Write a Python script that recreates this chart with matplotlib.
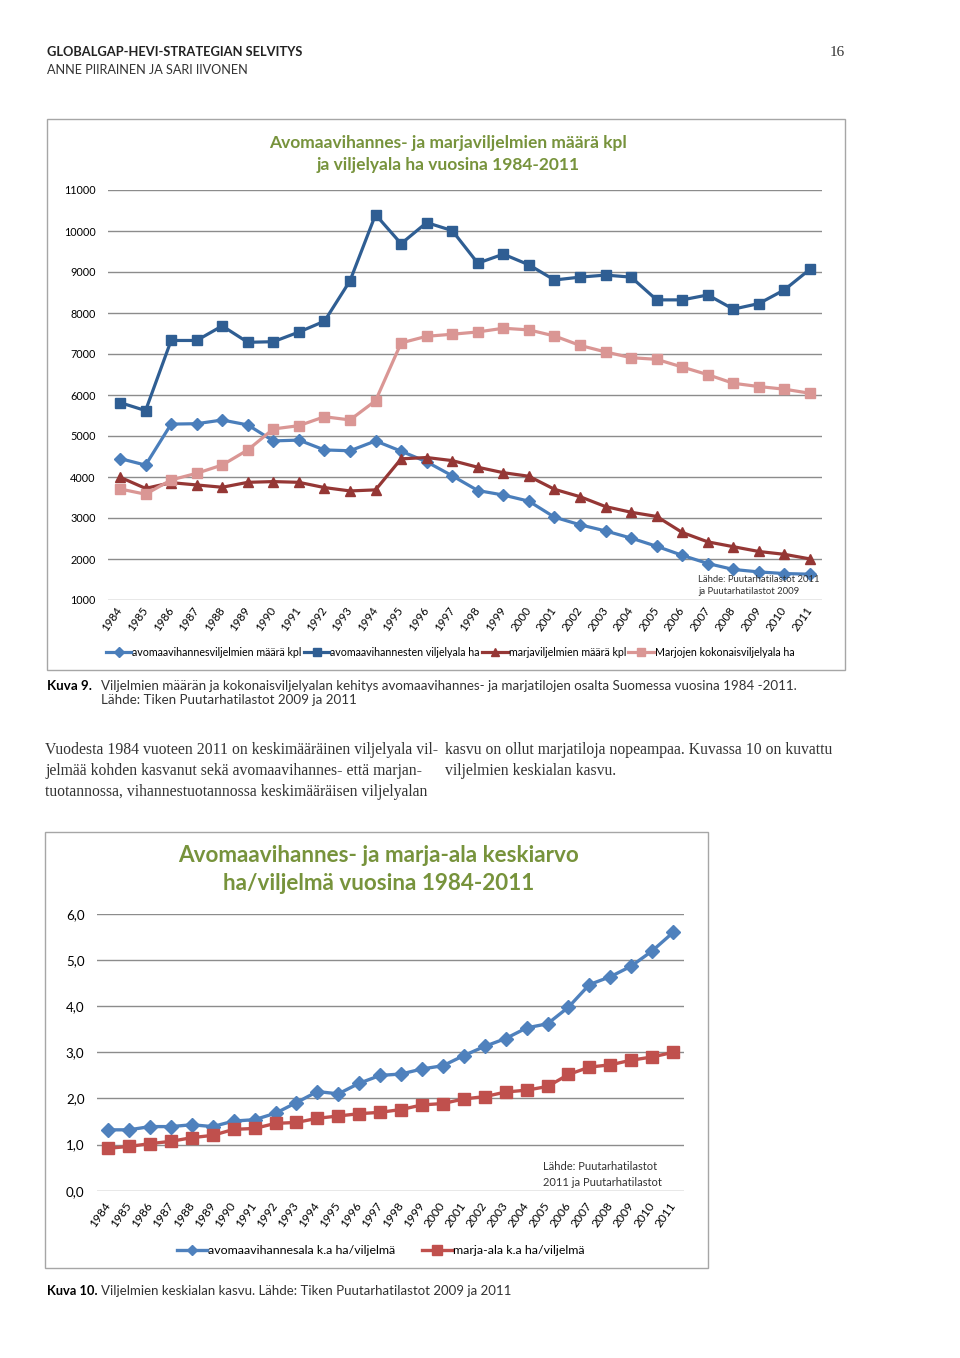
import numpy as np
import matplotlib
matplotlib.use('Agg')
import matplotlib.pyplot as plt
from matplotlib.patches import Rectangle

years = [str(y) for y in range(1984, 2012)]

# Kuva 9
avo_kpl = [4450, 4290, 5290, 5300, 5390, 5270, 4880, 4900, 4660, 4640,
           4880, 4630, 4370, 4030, 3670, 3560, 3410, 3020, 2835, 2685,
           2510, 2310, 2090, 1890, 1745, 1685, 1645, 1630]
avo_ha = [5815, 5620, 7330, 7330, 7685, 7285, 7300, 7535, 7800, 8785,
          10400, 9690, 10205, 10010, 9215, 9435, 9175, 8805, 8875, 8925,
          8875, 8320, 8320, 8440, 8095, 8230, 8565, 9068]
marja_kpl = [3995, 3722, 3862, 3806, 3750, 3870, 3888, 3870, 3742, 3660,
             3686, 4443, 4475, 4400, 4238, 4105, 4018, 3700, 3520, 3278,
             3140, 3038, 2648, 2418, 2300, 2183, 2114, 2002]
marja_ha = [3708, 3580, 3928, 4090, 4292, 4660, 5172, 5252, 5470, 5392,
            5860, 7270, 7432, 7482, 7538, 7628, 7588, 7440, 7210, 7050,
            6910, 6870, 6682, 6496, 6286, 6206, 6142, 6042]

# Kuva 10
avo_ka = [1.32, 1.32, 1.39, 1.39, 1.43, 1.39, 1.51, 1.54, 1.68, 1.91,
          2.15, 2.10, 2.33, 2.50, 2.53, 2.64, 2.71, 2.93, 3.13, 3.30,
          3.53, 3.62, 3.98, 4.47, 4.64, 4.87, 5.20, 5.60]
marja_ka = [0.92, 0.96, 1.02, 1.07, 1.15, 1.20, 1.33, 1.35, 1.46, 1.48,
            1.57, 1.62, 1.67, 1.70, 1.76, 1.86, 1.89, 1.99, 2.04, 2.14,
            2.18, 2.26, 2.52, 2.68, 2.73, 2.83, 2.90, 3.00]

W, H = 960, 1358
fig = plt.figure(figsize=(W / 100, H / 100), dpi=100)
plt.rcParams['font.family'] = ['Lato', 'DejaVu Sans']

GREEN = '#77933C'
GRID = '#8C8C8C'


def fx(x):
    return x / W


def fy(y):
    return 1 - y / H


def px_axes(left, top, right, bottom):
    return fig.add_axes([fx(left), fy(bottom), (right - left) / W, (bottom - top) / H])


# header
fig.text(fx(47), fy(52), 'GLOBALGAP-HEVI-STRATEGIAN SELVITYS', fontsize=9.3,
         fontweight='bold', va='center', color='#222222')
fig.text(fx(47), fy(70), 'ANNE PIIRAINEN JA SARI IIVONEN', fontsize=9.1,
         va='center', color='#333333')
fig.text(fx(845), fy(52), '16', fontsize=11, va='center', ha='right',
         family='Liberation Serif', color='#333333')

# ---------------- Kuva 9 ----------------
fig.patches.append(Rectangle((fx(47), fy(670)), (845 - 47) / W, (670 - 119) / H,
                             transform=fig.transFigure, fill=False,
                             edgecolor='#A6A6A6', linewidth=1))
ax1 = px_axes(108, 190, 822, 600)
x = np.arange(len(years))
ax1.plot(x, avo_kpl, color='#4A7EBB', lw=2.3, marker='D', ms=6, clip_on=False,
         label='avomaavihannesviljelmien määrä kpl')
ax1.plot(x, avo_ha, color='#2F5E93', lw=2.3, marker='s', ms=7, clip_on=False,
         label='avomaavihannesten viljelyala ha')
ax1.plot(x, marja_kpl, color='#953735', lw=2.3, marker='^', ms=7.5, clip_on=False,
         label='marjaviljelmien määrä kpl')
ax1.plot(x, marja_ha, color='#DA9694', lw=2.3, marker='s', ms=7, clip_on=False,
         label='Marjojen kokonaisviljelyala ha')
ax1.set_xlim(-0.47, 27.47)
ax1.set_ylim(1000, 11000)
ax1.set_yticks(range(1000, 12000, 1000))
ax1.set_yticklabels([str(v) for v in range(1000, 12000, 1000)], fontsize=7.8)
ax1.set_xticks(x)
ax1.set_xticklabels(years, rotation=55, ha='right', va='center',
                    rotation_mode='anchor', fontsize=8.3)
ax1.tick_params(axis='both', length=0)
ax1.tick_params(axis='y', pad=9)
ax1.tick_params(axis='x', pad=6)
ax1.grid(axis='y', color=GRID, lw=1)
ax1.set_axisbelow(True)
for s in ax1.spines.values():
    s.set_visible(False)
fig.text(fx(448), fy(143), 'Avomaavihannes- ja marjaviljelmien määrä kpl',
         fontsize=12.5, fontweight='bold', color=GREEN, ha='center', va='center')
fig.text(fx(448), fy(165), 'ja viljelyala ha vuosina 1984-2011',
         fontsize=12.5, fontweight='bold', color=GREEN, ha='center', va='center')
fig.text(fx(698), fy(579), 'Lähde: Puutarhatilastot 2011', fontsize=6.8,
         va='center', color='#333333')
fig.text(fx(698), fy(591), 'ja Puutarhatilastot 2009', fontsize=6.8,
         va='center', color='#333333')
h1, l1 = ax1.get_legend_handles_labels()
fig.legend(h1, l1, loc='center', bbox_to_anchor=(fx(450), fy(652)), ncol=4,
           frameon=False, fontsize=7.65, handlelength=2.4, handletextpad=0.1,
           columnspacing=0.2, markerscale=0.8)

fig.text(fx(47), fy(686), 'Kuva 9.', fontsize=9.6, fontweight='bold', va='center')
fig.text(fx(101), fy(686), 'Viljelmien määrän ja kokonaisviljelyalan kehitys avomaavihannes- ja '
         'marjatilojen osalta Suomessa vuosina 1984 -2011.', fontsize=9.6, va='center',
         color='#333333')
fig.text(fx(101), fy(700), 'Lähde: Tiken Puutarhatilastot 2009 ja 2011', fontsize=9.6,
         va='center', color='#333333')

# body text
left_col = ['Vuodesta 1984 vuoteen 2011 on keskimääräinen viljelyala vil-',
            'jelmää kohden kasvanut sekä avomaavihannes- että marjan-',
            'tuotannossa, vihannestuotannossa keskimääräisen viljelyalan']
right_col = ['kasvu on ollut marjatiloja nopeampaa. Kuvassa 10 on kuvattu',
             'viljelmien keskialan kasvu.']
for i, line in enumerate(left_col):
    fig.text(fx(45), fy(750 + 21 * i), line, fontsize=11.3, va='center',
             family='Liberation Serif', color='#333333')
for i, line in enumerate(right_col):
    fig.text(fx(445), fy(750 + 21 * i), line, fontsize=11.3, va='center',
             family='Liberation Serif', color='#333333')

# ---------------- Kuva 10 ----------------
fig.patches.append(Rectangle((fx(45), fy(1268)), (708 - 45) / W, (1268 - 832) / H,
                             transform=fig.transFigure, fill=False,
                             edgecolor='#A6A6A6', linewidth=1))
ax2 = px_axes(97, 914, 684, 1190.7)
ax2.plot(x, avo_ka, color='#4F81BD', lw=2.4, marker='D', ms=7, clip_on=False,
         label='avomaavihannesala k.a ha/viljelmä')
ax2.plot(x, marja_ka, color='#C0504D', lw=2.4, marker='s', ms=8.5, clip_on=False,
         label='marja-ala k.a ha/viljelmä')
ax2.set_xlim(-0.53, 27.52)
ax2.set_ylim(0, 6)
ticks2 = [0.0, 1.0, 2.0, 3.0, 4.0, 5.0, 6.0]
ax2.set_yticks(ticks2)
ax2.set_yticklabels([f'{t:.1f}'.replace('.', ',') for t in ticks2], fontsize=9.6)
ax2.set_xticks(x)
ax2.set_xticklabels(years, rotation=55, ha='right', va='center',
                    rotation_mode='anchor', fontsize=8.6)
ax2.tick_params(axis='both', length=0)
ax2.tick_params(axis='y', pad=9)
ax2.tick_params(axis='x', pad=9)
ax2.grid(axis='y', color=GRID, lw=1)
ax2.set_axisbelow(True)
for s in ax2.spines.values():
    s.set_visible(False)
fig.text(fx(379), fy(855), 'Avomaavihannes- ja marja-ala keskiarvo', fontsize=16.2,
         fontweight='bold', color=GREEN, ha='center', va='center')
fig.text(fx(379), fy(883), 'ha/viljelmä vuosina 1984-2011', fontsize=16.2,
         fontweight='bold', color=GREEN, ha='center', va='center')
fig.text(fx(543), fy(1167), 'Lähde: Puutarhatilastot', fontsize=8, va='center',
         color='#333333')
fig.text(fx(543), fy(1182), '2011 ja Puutarhatilastot', fontsize=8, va='center',
         color='#333333')
h2, l2 = ax2.get_legend_handles_labels()
fig.legend(h2, l2, loc='center', bbox_to_anchor=(fx(381), fy(1251)), ncol=2,
           frameon=False, fontsize=8.9, handlelength=2.4, handletextpad=0.1,
           columnspacing=2.2, markerscale=0.8)

fig.text(fx(47), fy(1291), 'Kuva 10.', fontsize=9.3, fontweight='bold', va='center')
fig.text(fx(101), fy(1291), 'Viljelmien keskialan kasvu. Lähde: Tiken Puutarhatilastot 2009 ja 2011',
         fontsize=9.5, va='center', color='#333333')

fig.savefig('out.png', dpi=100)
